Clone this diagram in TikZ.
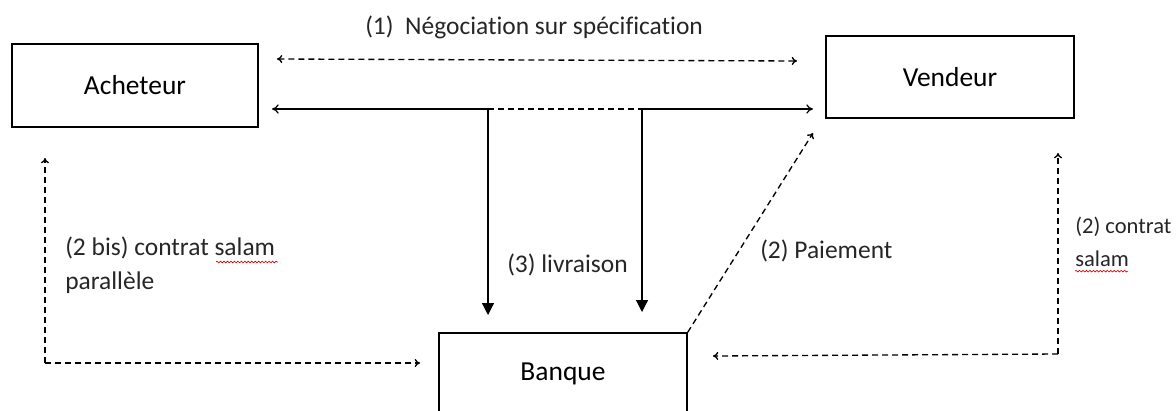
\documentclass[tikz,border=0pt]{standalone}
\usepackage{fontspec}
\setmainfont{Carlito}[Ligatures={NoCommon,TeX}]
\usetikzlibrary{arrows.meta,decorations.pathmorphing}
\tikzset{
  box/.style={draw, line width=1pt, rectangle, inner sep=0pt, font=\fontsize{20.6}{24}\selectfont},
  lbl/.style={inner sep=0pt, anchor=west, font=\fontsize{19.1}{22}\selectfont, text=black!85},
  slbl/.style={inner sep=0pt, anchor=west, font=\fontsize{16.9}{20}\selectfont, text=black!85},
  flow/.style={line width=0.9pt, -{To[length=5pt,width=7pt]}},
  down/.style={line width=0.9pt, -{Triangle[length=9pt,width=9pt]}},
  dflow/.style={line width=1pt, dash pattern=on 4.5pt off 3pt, -{To[length=4pt,width=6pt]}},
  dboth/.style={line width=1pt, dash pattern=on 4.5pt off 3pt, {To[length=4pt,width=6pt]}-{To[length=4pt,width=6pt]}},
  squig/.style={draw=red!85!black, line width=0.5pt, decorate, decoration={snake, amplitude=0.6pt, segment length=2.6pt}}
}
\begin{document}
\begin{tikzpicture}[x=0.75pt,y=-0.75pt]
\useasboundingbox (0,0) rectangle (1176,410);
\clip (0,0) rectangle (1176,410);

% parties
\node[box, minimum width=184.5pt, minimum height=62.25pt] (ach) at (135,85.5) {Acheteur};
\node[box, minimum width=186pt, minimum height=61.5pt] (ven) at (950,77) {Vendeur};
\node[box, minimum width=186pt, minimum height=60.75pt] (ban) at (563,373.5) {Banque};

% (1) negotiation
\coordinate (n1) at (277,59);
\coordinate (n2) at (797,61);
\draw[dboth] (n1) -- (n2);
\node[lbl] (tneg) at (365,27) {(1)\ \ Négociation sur spécification};

% (3) delivery
\coordinate (a1) at (272,109);
\coordinate (j1) at (488,109);
\coordinate (j2) at (642,109);
\coordinate (a2) at (813,109);
\coordinate (b1) at (488,315);
\coordinate (b2) at (642,312);
\draw[flow] (j1) -- (a1);
\draw[line width=1pt, dash pattern=on 4.5pt off 3pt] (j1) -- (j2);
\draw[flow] (j2) -- (a2);
\draw[down] (j1) -- (b1);
\draw[down] (j2) -- (b2);
\node[lbl] (tliv) at (507,265) {(3) livraison};

% (2) payment
\coordinate (p1) at (813,133);
\draw[dflow] (ban.north east) -- (p1);
\node[lbl] (tpai) at (760,251) {(2) Paiement};

% (2) salam contract
\coordinate (r0) at (1058,354);
\coordinate (r1) at (1058,153);
\coordinate (r2) at (713,356);
\draw[dflow] (r0) -- (r1);
\draw[dflow] (r0) -- (r2);
\node[slbl] (tsal1) at (1075,227) {(2) contrat};
\node[slbl] (tsal2) at (1075,259) {salam};
\draw[squig] (tsal2.south west) ++(0,4) -- ++(53,0);

% (2 bis) parallel salam contract
\coordinate (l0) at (45,363);
\coordinate (l1) at (45,158);
\coordinate (l2) at (420,363);
\draw[dflow] (l0) -- (l1);
\draw[dflow] (l0) -- (l2);
\node[lbl] (tbis1) at (65,248) {(2 bis) contrat salam};
\node[lbl] (tbis2) at (65,283) {parallèle};
\draw[squig] (216,262) -- (278,262);
\end{tikzpicture}
\end{document}
